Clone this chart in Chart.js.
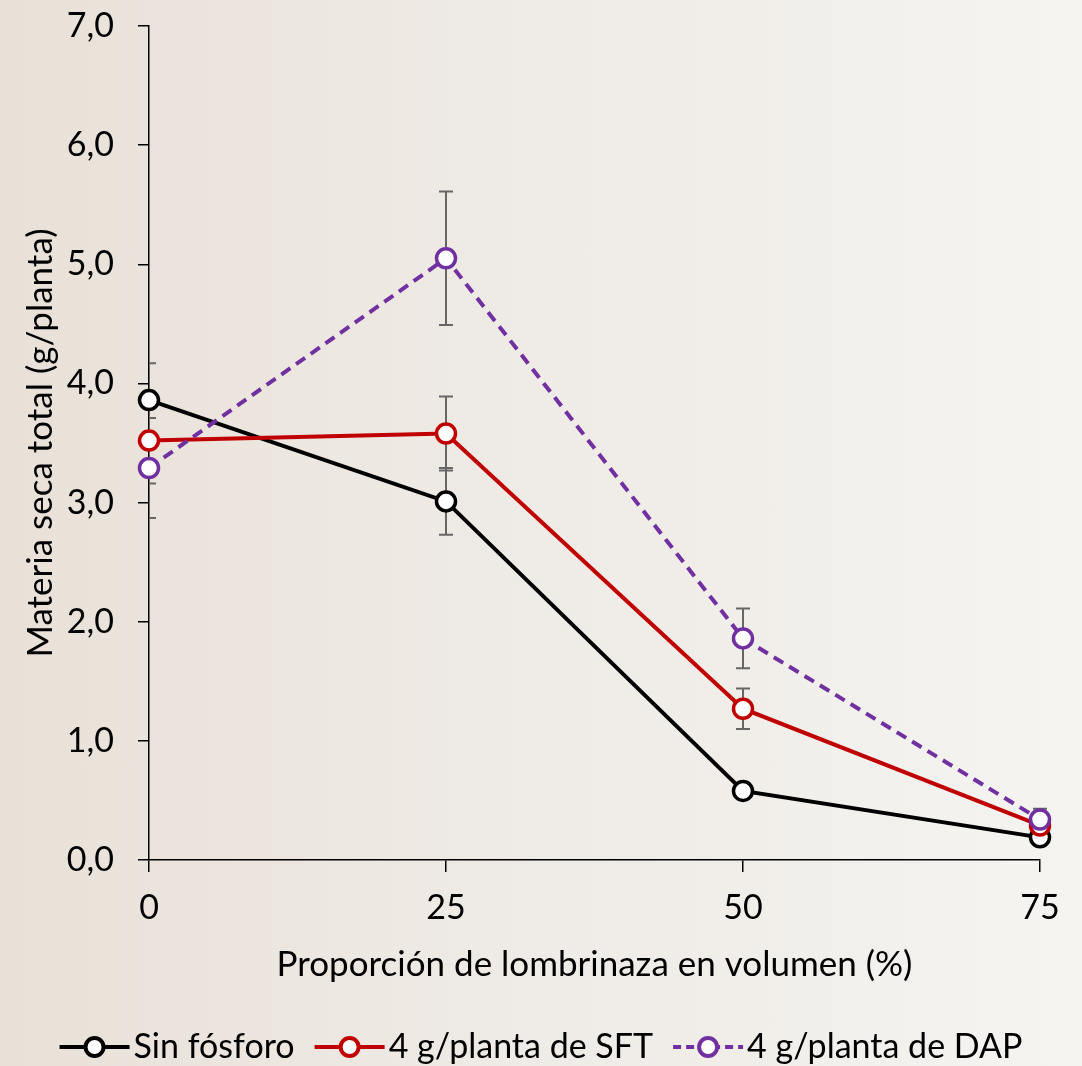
<!DOCTYPE html>
<html>
<head>
<meta charset="utf-8">
<script src="https://cdn.jsdelivr.net/npm/chart.js@4.4.1/dist/chart.umd.min.js"></script>
<style>
  html, body { margin: 0; padding: 0; }
  body {
    width: 1082px;
    height: 1066px;
    background: linear-gradient(to right, #e9e1d8 0%, #efebe6 50%, #f5f4f1 100%);
  }
  canvas { display: block; }
</style>
</head>
<body>
<canvas id="chart" width="1082" height="1066"></canvas>
<script>
// proporción de lombrinaza (%)
const proportions = [0, 25, 50, 75];

// materia seca total (g/planta) y su error
const sinFosforo = [3.86, 3.01, 0.58, 0.19];
const sinFosforoErr = [0.31, 0.28, 0.03, 0.02];
const sft = [3.52, 3.58, 1.27, 0.29];
const sftErr = [0.36, 0.31, 0.17, 0.03];
const dap = [3.29, 5.05, 1.86, 0.34];
const dapErr = [0.42, 0.56, 0.25, 0.09];

const yTicks = [0, 1, 2, 3, 4, 5, 6, 7];
const xTicks = [0, 25, 50, 75];

const FONT = "Lato, 'Open Sans', 'Noto Sans', sans-serif";

const series = [
  { label: "Sin fósforo", values: sinFosforo, err: sinFosforoErr, color: "#000000", dash: [], order: 2 },
  { label: "4 g/planta de SFT", values: sft, err: sftErr, color: "#c00000", dash: [], order: 1 },
  { label: "4 g/planta de DAP", values: dap, err: dapErr, color: "#7030a0", dash: [11, 7], order: 0 },
];

// gray error bars, clipped to the plot area
const errorBars = {
  id: "errorBars",
  beforeDatasetsDraw(chart) {
    const { ctx, chartArea, scales } = chart;
    ctx.save();
    ctx.beginPath();
    ctx.rect(chartArea.left, 0, chartArea.right - chartArea.left + 20, chart.height);
    ctx.clip();
    ctx.strokeStyle = "#666666";
    ctx.lineWidth = 2;
    series.forEach(s => {
      s.values.forEach((v, i) => {
        const x = scales.x.getPixelForValue(proportions[i]);
        const yTop = scales.y.getPixelForValue(v + s.err[i]);
        const yBot = scales.y.getPixelForValue(v - s.err[i]);
        ctx.beginPath();
        ctx.moveTo(x, yTop); ctx.lineTo(x, yBot);
        ctx.moveTo(x - 7, yTop); ctx.lineTo(x + 7, yTop);
        ctx.moveTo(x - 7, yBot); ctx.lineTo(x + 7, yBot);
        ctx.stroke();
      });
    });
    ctx.restore();
  }
};

// legend: line with a hollow marker, then the label
const markerLegend = {
  id: "markerLegend",
  afterDraw(chart) {
    const { ctx } = chart;
    ctx.save();
    ctx.font = "34px " + FONT;
    const swatch = 70, gapText = 4, gapItem = 20;
    const widths = series.map(s => swatch + gapText + ctx.measureText(s.label).width);
    const total = widths.reduce((a, b) => a + b, 0) + gapItem * (series.length - 1);
    let x = (chart.width - total) / 2;
    const y = 1047;
    series.forEach((s, i) => {
      ctx.strokeStyle = s.color;
      ctx.lineWidth = 4;
      ctx.setLineDash(s.dash.length ? [8, 5] : []);
      ctx.beginPath();
      ctx.moveTo(x, y); ctx.lineTo(x + swatch, y);
      ctx.stroke();
      ctx.setLineDash([]);
      ctx.beginPath();
      ctx.arc(x + swatch / 2, y, 9, 0, Math.PI * 2);
      ctx.fillStyle = "#ffffff";
      ctx.fill();
      ctx.stroke();
      ctx.fillStyle = "#000000";
      ctx.textBaseline = "middle";
      ctx.textAlign = "left";
      ctx.fillText(s.label, x + swatch + gapText, y);
      x += widths[i] + gapItem;
    });
    ctx.restore();
  }
};

new Chart(document.getElementById("chart"), {
  type: "line",
  data: {
    datasets: series.map(s => ({
      label: s.label,
      data: s.values.map((v, i) => ({ x: proportions[i], y: v })),
      borderColor: s.color,
      backgroundColor: "#ffffff",
      borderWidth: 4,
      borderDash: s.dash,
      pointRadius: 9.5,
      pointBorderWidth: 3.5,
      pointBackgroundColor: "#ffffff",
      pointBorderColor: s.color,
      tension: 0,
      clip: false,
      order: s.order,
    })),
  },
  options: {
    responsive: false,
    animation: false,
    layout: { padding: { top: 26, right: 42, left: 0, bottom: 0 } },
    plugins: {
      legend: { display: false },
      tooltip: { enabled: false },
    },
    scales: {
      x: {
        type: "linear",
        min: 0,
        max: 75,
        afterBuildTicks: scale => { scale.ticks = xTicks.map(v => ({ value: v })); },
        afterFit: scale => { scale.height = 206; scale.paddingLeft = 0; scale.paddingRight = 0; },
        ticks: {
          color: "#000",
          font: { family: FONT, size: 34 },
          padding: 16,
        },
        grid: { drawOnChartArea: false, drawTicks: true, tickLength: 12, color: "#000", lineWidth: 1.5 },
        border: { color: "#000", width: 1.5 },
        title: {
          display: true,
          text: "Proporción de lombrinaza en volumen (%)",
          color: "#000",
          font: { family: FONT, size: 35 },
          padding: { top: 0, bottom: 80 },
        },
      },
      y: {
        min: 0,
        max: 7,
        afterBuildTicks: scale => { scale.ticks = yTicks.map(v => ({ value: v })); },
        afterFit: scale => { scale.width = 149; scale.paddingTop = 0; scale.paddingBottom = 0; },
        ticks: {
          color: "#000",
          font: { family: FONT, size: 34 },
          padding: 24,
          callback: v => v.toFixed(1).replace(".", ","),
        },
        grid: { drawOnChartArea: false, drawTicks: true, tickLength: 11, color: "#000", lineWidth: 1.5 },
        border: { color: "#000", width: 1.5 },
        title: {
          display: true,
          text: "Materia seca total (g/planta)",
          color: "#000",
          font: { family: FONT, size: 35 },
          padding: { top: 20, bottom: 0 },
        },
      },
    },
  },
  plugins: [errorBars, markerLegend],
});
</script>
</body>
</html>
